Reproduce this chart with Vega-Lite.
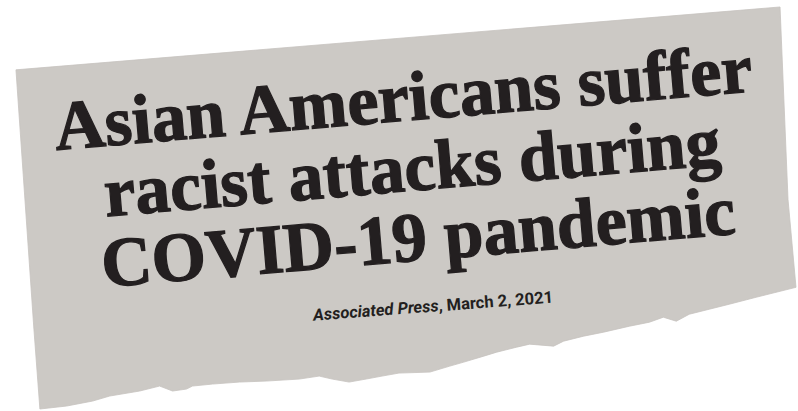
{
  "$schema": "https://vega.github.io/schema/vega-lite/v6.json",
  "width": 798,
  "height": 411,
  "autosize": {"type": "fit", "contains": "padding"},
  "padding": 0,
  "background": "white",
  "config": {"view": {"stroke": null}},
  "layer": [
    {
      "data": {"values": [
        {"i": 0, "x": 16, "y": 70},
        {"i": 1, "x": 782, "y": 7},
        {"i": 2, "x": 790, "y": 200},
        {"i": 3, "x": 798, "y": 288},
        {"i": 4, "x": 778, "y": 293},
        {"i": 5, "x": 758, "y": 298},
        {"i": 6, "x": 731, "y": 305},
        {"i": 7, "x": 711, "y": 310},
        {"i": 8, "x": 691, "y": 315},
        {"i": 9, "x": 678, "y": 322},
        {"i": 10, "x": 665, "y": 318},
        {"i": 11, "x": 651, "y": 323},
        {"i": 12, "x": 631, "y": 327},
        {"i": 13, "x": 605, "y": 333},
        {"i": 14, "x": 585, "y": 337},
        {"i": 15, "x": 565, "y": 342},
        {"i": 16, "x": 555, "y": 347},
        {"i": 17, "x": 531, "y": 345},
        {"i": 18, "x": 518, "y": 348},
        {"i": 19, "x": 498, "y": 353},
        {"i": 20, "x": 485, "y": 357},
        {"i": 21, "x": 465, "y": 363},
        {"i": 22, "x": 451, "y": 367},
        {"i": 23, "x": 431, "y": 373},
        {"i": 24, "x": 400, "y": 374},
        {"i": 25, "x": 383, "y": 377},
        {"i": 26, "x": 367, "y": 380},
        {"i": 27, "x": 350, "y": 383},
        {"i": 28, "x": 333, "y": 380},
        {"i": 29, "x": 320, "y": 377},
        {"i": 30, "x": 300, "y": 380},
        {"i": 31, "x": 267, "y": 382},
        {"i": 32, "x": 240, "y": 383},
        {"i": 33, "x": 213, "y": 385},
        {"i": 34, "x": 193, "y": 387},
        {"i": 35, "x": 187, "y": 390},
        {"i": 36, "x": 173, "y": 392},
        {"i": 37, "x": 160, "y": 387},
        {"i": 38, "x": 140, "y": 392},
        {"i": 39, "x": 110, "y": 397},
        {"i": 40, "x": 93, "y": 402},
        {"i": 41, "x": 67, "y": 407},
        {"i": 42, "x": 40, "y": 410},
        {"i": 43, "x": 34, "y": 330},
        {"i": 44, "x": 16, "y": 70}
      ]},
      "mark": {"type": "line", "fill": "#ccc9c5", "stroke": "#c6c3bf", "strokeWidth": 0.8, "interpolate": "linear"},
      "encoding": {
        "x": {"field": "x", "type": "quantitative", "scale": {"domain": [0, 798], "nice": false, "zero": false}, "axis": null},
        "y": {"field": "y", "type": "quantitative", "scale": {"domain": [0, 411], "nice": false, "zero": false, "reverse": true}, "axis": null},
        "order": {"field": "i", "type": "quantitative"}
      }
    },
    {
      "data": {"values": [
        {"line": "Asian Americans suffer", "x": 406, "y": 121},
        {"line": "racist attacks during", "x": 415, "y": 191},
        {"line": "COVID-19 pandemic", "x": 421, "y": 261}
      ]},
      "mark": {"type": "text", "font": "Liberation Serif", "fontWeight": "bold", "fontSize": 70, "align": "center", "baseline": "alphabetic", "angle": -4.8, "fill": "#231f20", "stroke": "#231f20", "strokeWidth": 1.3},
      "encoding": {
        "x": {"field": "x", "type": "quantitative", "scale": {"domain": [0, 798], "nice": false, "zero": false}, "axis": null},
        "y": {"field": "y", "type": "quantitative", "scale": {"domain": [0, 411], "nice": false, "zero": false, "reverse": true}, "axis": null},
        "text": {"field": "line", "type": "nominal"}
      }
    },
    {
      "data": {"values": [
        {"part": "Associated Press", "x": 440, "y": 312}
      ]},
      "mark": {"type": "text", "font": "Roboto", "fontWeight": "bold", "fontStyle": "italic", "fontSize": 16.5, "align": "right", "baseline": "alphabetic", "angle": -4.3, "fill": "#231f20"},
      "encoding": {
        "x": {"field": "x", "type": "quantitative", "scale": {"domain": [0, 798], "nice": false, "zero": false}, "axis": null},
        "y": {"field": "y", "type": "quantitative", "scale": {"domain": [0, 411], "nice": false, "zero": false, "reverse": true}, "axis": null},
        "text": {"field": "part", "type": "nominal"}
      }
    },
    {
      "data": {"values": [
        {"part": ", March 2, 2021", "x": 440, "y": 312}
      ]},
      "mark": {"type": "text", "font": "Roboto", "fontWeight": "bold", "fontSize": 16.5, "align": "left", "baseline": "alphabetic", "angle": -4.3, "fill": "#231f20"},
      "encoding": {
        "x": {"field": "x", "type": "quantitative", "scale": {"domain": [0, 798], "nice": false, "zero": false}, "axis": null},
        "y": {"field": "y", "type": "quantitative", "scale": {"domain": [0, 411], "nice": false, "zero": false, "reverse": true}, "axis": null},
        "text": {"field": "part", "type": "nominal"}
      }
    }
  ]
}
